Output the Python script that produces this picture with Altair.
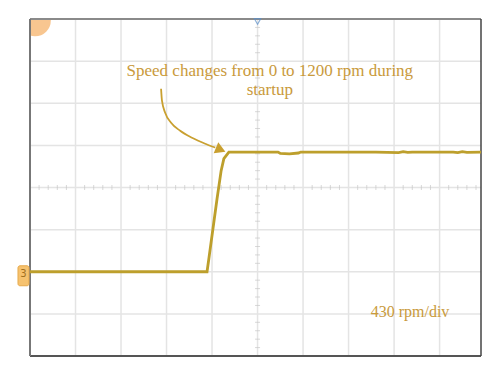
import altair as alt
import pandas as pd
import numpy as np

# ---- data (time in divisions, speed in rpm) ----
trace_t = [0.0, 3.89, 3.93, 4.02, 4.11, 4.20, 4.26, 4.37, 4.8, 5.2, 5.45, 5.5, 5.7, 5.9, 5.95,
           7.6, 8.1, 8.2, 8.3, 8.4, 9.3, 9.4, 9.5, 9.6, 9.91]
trace_rpm = [0, 0, 133, 439, 745, 1032, 1154, 1222, 1222, 1222, 1222, 1208, 1204, 1212, 1222,
             1222, 1216, 1226, 1218, 1222, 1222, 1216, 1226, 1218, 1222]

arrow_t = [2.88, 2.90, 2.97, 3.10, 3.30, 3.56, 3.85, 4.07]
arrow_rpm = [1868, 1746, 1623, 1521, 1439, 1368, 1307, 1268]
arrow_head_t = [4.19]
arrow_head_rpm = [1245]

note_lines = ["Speed changes from 0 to 1200 rpm during", "startup"]
note_t = [5.27, 5.27]
note_rpm = [2052, 1858]

scale_label = ["430 rpm/div"]
scale_t = [8.35]
scale_rpm = [-408]

DIV = 430
X_DOM = [0, 9.91]
Y_DOM = [-2 * DIV, 6 * DIV]

xs = alt.Scale(domain=X_DOM, nice=False, zero=False)
ys = alt.Scale(domain=Y_DOM, nice=False, zero=False)

def X(f="t"):
    return alt.X(f"{f}:Q", scale=xs, axis=None)

def Y(f="rpm"):
    return alt.Y(f"{f}:Q", scale=ys, axis=None)

# grid
vgrid = pd.DataFrame({"t": list(range(1, 10))})
hgrid = pd.DataFrame({"rpm": [DIV * k for k in range(-1, 6)]})
grid_v = alt.Chart(vgrid).mark_rule(color="#e4e4e4", strokeWidth=1.5).encode(x=X())
grid_h = alt.Chart(hgrid).mark_rule(color="#e4e4e4", strokeWidth=1.5).encode(y=Y())

# minor ticks along center lines
minor_x = pd.DataFrame({"t": [round(0.2 * k, 2) for k in range(1, 50) if k % 5 != 0],
                        "rpm": [2 * DIV] * 40})
minor_y = pd.DataFrame({"rpm": [round(-2 * DIV + 0.2 * DIV * k, 1) for k in range(1, 40) if k % 5 != 0],
                        "t": [5.0] * 32})
ticks_x = alt.Chart(minor_x).mark_tick(color="#c8c8c8", orient="vertical", size=5, thickness=1).encode(x=X(), y=Y())
ticks_y = alt.Chart(minor_y).mark_tick(color="#c8c8c8", orient="horizontal", size=5, thickness=1).encode(x=X(), y=Y())

# borders
b_top = alt.Chart(pd.DataFrame({"rpm": [Y_DOM[1]]})).mark_rule(color="#8a8a8a", strokeWidth=2).encode(y=Y())
b_bot = alt.Chart(pd.DataFrame({"rpm": [Y_DOM[0]]})).mark_rule(color="#555555", strokeWidth=2).encode(y=Y())
b_left = alt.Chart(pd.DataFrame({"t": [X_DOM[0]]})).mark_rule(color="#777777", strokeWidth=2).encode(x=X())
b_right = alt.Chart(pd.DataFrame({"t": [X_DOM[1]]})).mark_rule(color="#444444", strokeWidth=1.5).encode(x=X())

# trace
tr = pd.DataFrame({"t": trace_t, "rpm": trace_rpm, "i": range(len(trace_t))})
trace = alt.Chart(tr).mark_line(color="#bd9f2c", strokeWidth=2.8).encode(x=X(), y=Y(), order="i:Q")

# arrow
ar = pd.DataFrame({"t": arrow_t, "rpm": arrow_rpm, "i": range(len(arrow_t))})
arrow = alt.Chart(ar).mark_line(color="#c9a030", strokeWidth=1.8, interpolate="monotone").encode(
    x=X(), y=Y(), order="i:Q")
head = alt.Chart(pd.DataFrame({"t": arrow_head_t, "rpm": arrow_head_rpm})).mark_point(
    shape="triangle-right", filled=True, color="#c9a030", size=140, angle=23, opacity=1).encode(x=X(), y=Y())

# texts
notes = alt.Chart(pd.DataFrame({"t": note_t, "rpm": note_rpm, "txt": note_lines})).mark_text(
    font="Liberation Serif", fontSize=17, color="#c99a3c", align="center", baseline="middle").encode(
    x=X(), y=Y(), text="txt:N")
scl = alt.Chart(pd.DataFrame({"t": scale_t, "rpm": scale_rpm, "txt": scale_label})).mark_text(
    font="Liberation Serif", fontSize=16, color="#c99a3c", align="center", baseline="middle").encode(
    x=X(), y=Y(), text="txt:N")

# decorations: corner circle, trigger marker, channel marker
corner = alt.Chart(pd.DataFrame({"t": [0.11], "rpm": [Y_DOM[1] - 15]})).mark_point(
    shape="circle", filled=True, color="#f8c690", size=1000, opacity=1, clip=True).encode(x=X(), y=Y())
trig = alt.Chart(pd.DataFrame({"t": [5.0], "rpm": [Y_DOM[1] - 25]})).mark_point(
    shape="triangle-down", filled=False, color="#5b8fc9", size=40, strokeWidth=1.2).encode(x=X(), y=Y())
ch_box = alt.Chart(pd.DataFrame({"t": [-0.264], "t2": [-0.022], "rpm": [61], "rpm2": [-143]})).mark_rect(
    color="#f6c26f", stroke="#e7a94a", cornerRadius=2, clip=False).encode(
    x=X(), x2="t2:Q", y=Y(), y2="rpm2:Q")
ch_txt = alt.Chart(pd.DataFrame({"t": [-0.143], "rpm": [-20], "txt": ["3"]})).mark_text(
    fontSize=10, color="#a07020", font="DejaVu Sans").encode(x=X(), y=Y(), text="txt:N")

chart = alt.layer(
    grid_v, grid_h, ticks_x, ticks_y, corner, b_top, b_bot, b_left, b_right,
    trace, arrow, head, notes, scl, trig, ch_box, ch_txt
).properties(
    width=451, height=337,
    padding={"left": 22, "top": 11, "right": 8, "bottom": 8},
    autosize=alt.AutoSizeParams(type="none")
).configure_view(stroke=None)

chart.save("out.html", embed_options={"renderer": "svg", "actions": False})
